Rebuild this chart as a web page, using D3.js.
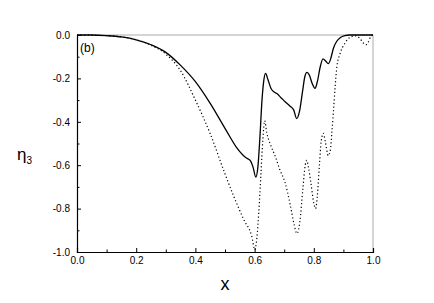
<!DOCTYPE html>
<html>
<head>
<meta charset="utf-8">
<script src="https://cdn.jsdelivr.net/npm/d3@7"></script>
<style>
  body { margin: 0; background: #fff; }
  text { font-family: "Liberation Sans", Arial, sans-serif; fill: #000; }
</style>
</head>
<body>
<div id="chart"></div>
<script>
// solid curve
var solidX = [0, 0.05, 0.1, 0.15, 0.2, 0.25, 0.3, 0.35, 0.4, 0.45, 0.5, 0.54, 0.57, 0.585, 0.595, 0.604,
              0.611, 0.618, 0.625, 0.631, 0.637, 0.645, 0.655, 0.665, 0.675, 0.69, 0.705, 0.72, 0.732, 0.742,
              0.752, 0.762, 0.77, 0.777, 0.785, 0.795, 0.804, 0.812, 0.822, 0.831, 0.84, 0.849, 0.857, 0.866,
              0.877, 0.89, 0.905, 0.92, 0.95, 1.0];
var solidY = [0, 0, -0.003, -0.009, -0.022, -0.045, -0.08, -0.14, -0.215, -0.315, -0.43, -0.52, -0.565, -0.578, -0.61, -0.655,
              -0.61, -0.47, -0.3, -0.21, -0.177, -0.205, -0.245, -0.262, -0.27, -0.29, -0.31, -0.328, -0.345, -0.385,
              -0.35, -0.26, -0.19, -0.172, -0.185, -0.225, -0.246, -0.215, -0.145, -0.11, -0.12, -0.132, -0.11, -0.062,
              -0.03, -0.012, -0.003, 0, 0, 0];

// dotted curve
var dotX = [0, 0.1, 0.2, 0.25, 0.3, 0.35, 0.4, 0.45, 0.5, 0.53, 0.565, 0.59, 0.601, 0.608, 0.614, 0.621,
            0.628, 0.634, 0.641, 0.655, 0.67, 0.685, 0.703, 0.72, 0.733, 0.743, 0.753, 0.763, 0.771, 0.776,
            0.782, 0.79, 0.8, 0.806, 0.812, 0.819, 0.825, 0.832, 0.84, 0.849, 0.856, 0.861, 0.866, 0.872,
            0.878, 0.889, 0.905, 0.922, 0.94, 0.955, 0.966, 0.976, 0.985, 0.992, 1.0];
var dotY = [0, -0.003, -0.022, -0.047, -0.088, -0.165, -0.3, -0.455, -0.64, -0.745, -0.855, -0.925, -0.99, -0.93, -0.82, -0.65,
            -0.48, -0.395, -0.45, -0.51, -0.56, -0.62, -0.68, -0.78, -0.87, -0.915, -0.86, -0.71, -0.6, -0.578,
            -0.61, -0.68, -0.775, -0.8, -0.74, -0.6, -0.49, -0.453, -0.5, -0.556, -0.53, -0.45, -0.36, -0.24,
            -0.146, -0.085, -0.038, -0.011, -0.004, -0.015, -0.035, -0.045, -0.03, -0.008, 0];

var xTicks = [0, 0.2, 0.4, 0.6, 0.8, 1.0];
var yTicks = [0, -0.2, -0.4, -0.6, -0.8, -1.0];

var W = 434, H = 303;
var pL = 77, pR = 373, pT = 35, pB = 252;

var svg = d3.select("#chart").append("svg")
  .attr("width", W).attr("height", H);

var x = d3.scaleLinear().domain([0, 1]).range([pL, pR]);
var y = d3.scaleLinear().domain([-1, 0]).range([pB, pT]);

var fmt = function(d) { return d3.format(".1f")(d).replace("\u2212", "-"); };

// frame: light top/right
svg.append("line").attr("x1", pL).attr("x2", pR).attr("y1", pT).attr("y2", pT)
  .attr("stroke", "#aaa").attr("stroke-width", 1);
svg.append("line").attr("x1", pR).attr("x2", pR).attr("y1", pT).attr("y2", pB)
  .attr("stroke", "#aaa").attr("stroke-width", 1);

// minor ticks
var xMinor = [0.1, 0.3, 0.5, 0.7, 0.9];
var yMinor = [-0.1, -0.3, -0.5, -0.7, -0.9];

svg.append("g").attr("transform", "translate(0," + pB + ")")
  .call(d3.axisBottom(x).tickValues(xTicks).tickSize(-4).tickPadding(5).tickFormat(fmt));
svg.append("g").attr("transform", "translate(0," + pB + ")")
  .call(d3.axisBottom(x).tickValues(xMinor).tickSize(-2.5).tickFormat(""))
  .select(".domain").remove();

svg.append("g").attr("transform", "translate(" + pL + ",0)")
  .call(d3.axisLeft(y).tickValues(yTicks).tickSize(-4).tickPadding(7).tickFormat(fmt));
svg.append("g").attr("transform", "translate(" + pL + ",0)")
  .call(d3.axisLeft(y).tickValues(yMinor).tickSize(-2.5).tickFormat(""))
  .select(".domain").remove();

svg.selectAll(".domain").attr("stroke", "#000").attr("stroke-width", 1.2);
svg.selectAll(".tick line").attr("stroke", "#000");
svg.selectAll(".tick text").attr("font-size", "10px").attr("fill", "#000")
  .style("font-family", "'Liberation Sans', Arial, sans-serif");

var line = d3.line()
  .x(function(d) { return x(d[0]); })
  .y(function(d) { return y(d[1]); })
  .curve(d3.curveMonotoneX);

svg.append("path")
  .datum(dotX.map(function(d, i) { return [d, dotY[i]]; }))
  .attr("d", line)
  .attr("fill", "none")
  .attr("stroke", "#000")
  .attr("stroke-width", 1.2)
  .attr("stroke-dasharray", "1.2,2.4");

svg.append("path")
  .datum(solidX.map(function(d, i) { return [d, solidY[i]]; }))
  .attr("d", line)
  .attr("fill", "none")
  .attr("stroke", "#000")
  .attr("stroke-width", 1.3);

svg.append("text").attr("x", 80).attr("y", 52)
  .attr("font-size", "12px").text("(b)");

var yl = svg.append("text").attr("x", 17).attr("y", 160).attr("font-size", "17px");
yl.append("tspan").text("\u03b7");
yl.append("tspan").attr("font-size", "10px").attr("dy", 4).text("3");

svg.append("text").attr("x", 225).attr("y", 290)
  .attr("text-anchor", "middle").attr("font-size", "18px").text("x");
</script>
</body>
</html>
